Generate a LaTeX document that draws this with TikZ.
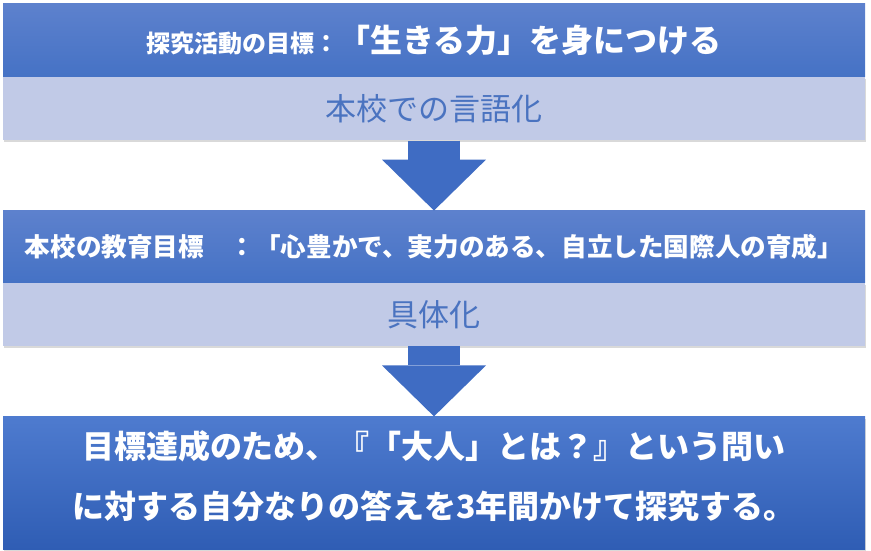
\documentclass[tikz,border=0pt]{standalone}
\usepackage{fontspec}
\newfontfamily\jpfont{Noto Sans CJK JP}
\usetikzlibrary{arrows.meta, positioning, shadows}
\definecolor{bandtop}{HTML}{5D81CD}
\definecolor{bandbottom}{HTML}{4572C5}
\definecolor{aimtop}{HTML}{4E7BCF}
\definecolor{aimbottom}{HTML}{2F5DB4}
\definecolor{subfill}{HTML}{C1CAE7}
\definecolor{subtext}{HTML}{4A73C0}
\definecolor{flowblue}{HTML}{3F6CC3}

\begin{document}
\begin{tikzpicture}[x=1pt, y=1pt]
   \tikzset{band/.style={minimum width=862pt, inner sep=0pt, text=white, top color=bandtop, bottom color=bandbottom},
     sub/.style={minimum width=862pt, minimum height=63pt, inner sep=0pt, fill=subfill, text=subtext,
       font=\jpfont\fontsize{31}{31}\selectfont, drop shadow={opacity=0.3, shadow xshift=1pt, shadow yshift=-2pt}},
     flow/.style={line width=52pt, draw=flowblue, -{Triangle[width=104pt, length=51pt, line width=0pt]}}}
  \useasboundingbox (0,0) rectangle (871,-551);
  \node[band, minimum height=73pt, font=\jpfont\bfseries] (goal) at (434,-40.5)
    {{\fontsize{24}{24}\selectfont 探究活動の目標：}{\fontsize{32}{32}\selectfont 「生きる力」を身につける}};
  \node[sub, below=0pt of goal] (wording) {本校での言語化};
  \node[band, minimum height=72pt, below=70pt of wording, font=\jpfont\bfseries\fontsize{25.6}{25.6}\selectfont] (school)
    {本校の教育目標　：「心豊かで、実力のある、自立した国際人の育成」};
  \node[sub, below=0pt of school] (concrete) {具体化};
  \node[band, minimum height=133pt, below=70pt of concrete, top color=aimtop, bottom color=aimbottom,
    drop shadow={opacity=0.3, shadow xshift=1pt, shadow yshift=-2pt}] (aim) {};
  \node[text=white, align=center, font=\jpfont\bfseries\fontsize{32}{60}\selectfont] (aimtext) at ([yshift=7pt]aim.center)
    {目標達成のため、『「大人」とは？』という問い\\に対する自分なりの答えを3年間かけて探究する。};
  \draw[flow] (wording.south) -- (school.north);
  \draw[flow] (concrete.south) -- (aim.north);
\end{tikzpicture}
\end{document}
